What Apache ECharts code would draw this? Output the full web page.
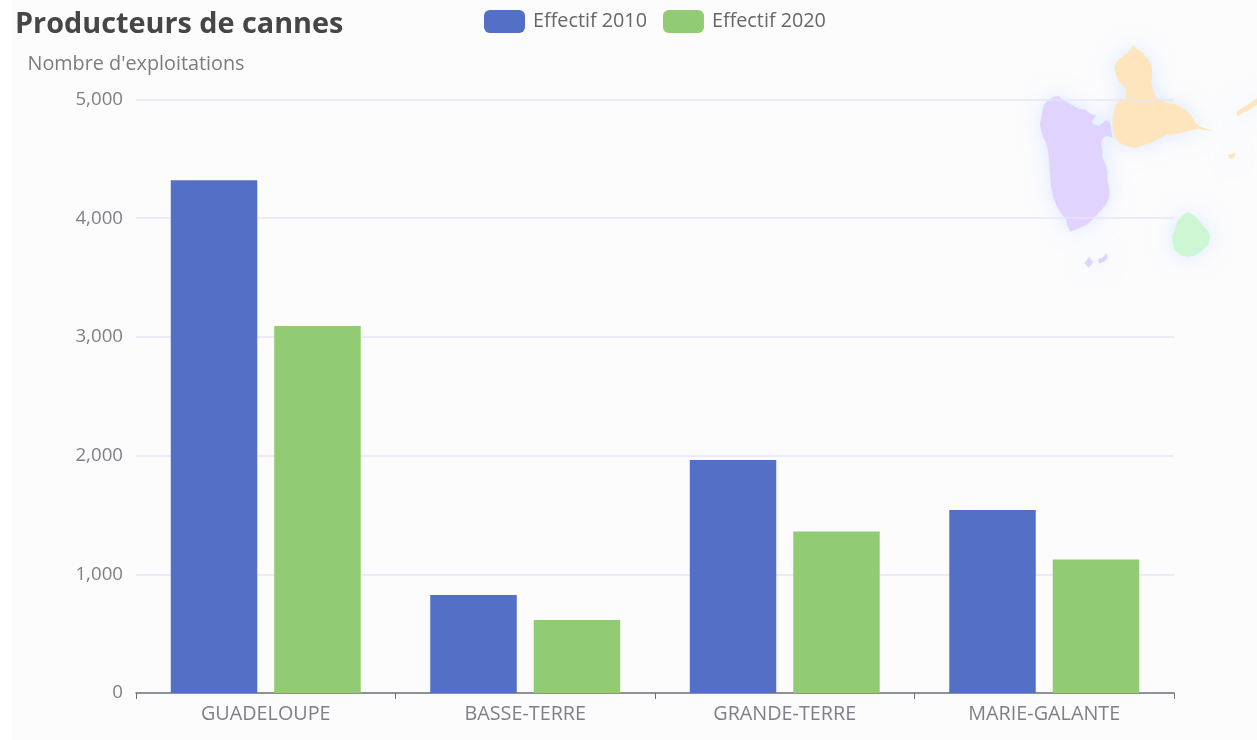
<!DOCTYPE html>
<html><head><meta charset="utf-8">
<script src="https://cdn.jsdelivr.net/npm/echarts@6/dist/echarts.min.js"></script>
<style>html,body{margin:0;padding:0;background:linear-gradient(to right,#fff 12px,#fcfcfd 12px);}#c{width:1257px;height:740px}</style>
</head><body><div id="c"></div>
<script>
const categories=['GUADELOUPE','BASSE-TERRE','GRANDE-TERRE','MARIE-GALANTE'];
const effectif2010=[4320,826,1963,1542];
const effectif2020=[3092,615,1360,1125];
const yTicks={min:0,max:5000,interval:1000};
const FONT='"Open Sans","Noto Sans",sans-serif';

const outlineBasseTerre=[[[100,202],[115,198],[128,208],[150,222],[175,236],[195,240],[212,252],[228,256],[222,268],[215,275],[222,285],[238,288],[250,278],[258,271],[270,280],[272,295],[278,325],[262,318],[250,322],[244,340],[248,365],[246,380],[255,400],[263,425],[262,450],[268,480],[268,505],[258,525],[245,540],[232,555],[218,570],[205,582],[190,590],[170,600],[150,607],[143,590],[138,570],[122,550],[110,530],[98,500],[93,470],[90,440],[88,400],[85,370],[78,340],[65,310],[60,285],[66,250],[72,225],[85,210]],
 [[207,683],[220,697],[207,715],[193,702]],[[233,690],[250,683],[260,671],[264,685],[252,697],[238,702]]];
const outlineGrandeTerre=[[[338,45],[348,55],[365,65],[385,88],[395,110],[397,135],[393,160],[402,185],[412,208],[440,218],[470,224],[495,238],[512,255],[525,278],[540,290],[585,305],[555,300],[530,298],[500,305],[470,312],[440,316],[418,326],[395,338],[365,348],[345,356],[322,350],[300,340],[285,325],[277,295],[278,265],[283,240],[290,218],[305,210],[318,205],[318,185],[316,172],[298,158],[290,140],[283,115],[290,95],[305,80],[322,70],[332,58]],
 [[650,245],[680,226],[711,205],[711,225],[690,238],[665,252],[652,260]],[[623,376],[647,370],[642,384],[630,388]]];
const outlineMarieGalante=[[[500,548],[518,555],[535,570],[550,590],[565,605],[570,625],[565,645],[545,665],[525,678],[505,682],[485,678],[465,665],[458,640],[455,622],[465,600],[472,575],[485,560]]];
const toGeo=(name,polys)=>({type:'Feature',properties:{name},geometry:{type:'MultiPolygon',coordinates:polys.map(p=>{const r=p.map(q=>[q[0]/10,-q[1]/10]);r.push(r[0]);return [r];})}});
echarts.registerMap('gwada',{type:'FeatureCollection',features:[toGeo('Basse-Terre',outlineBasseTerre),toGeo('Grande-Terre',outlineGrandeTerre),toGeo('Marie-Galante',outlineMarieGalante)]});

const chart=echarts.init(document.getElementById('c'),null,{renderer:'canvas'});
const glow={shadowBlur:20,shadowColor:'rgba(190,215,255,0.5)',borderWidth:0};
chart.setOption({
 animation:false,
 backgroundColor:'transparent',
 title:{text:'Producteurs de cannes',left:10,top:5,textStyle:{fontFamily:FONT,fontSize:28.8,fontWeight:'bold',color:'#464646'}},
 legend:{left:479,top:5,itemWidth:41,itemHeight:23,itemGap:16,textStyle:{fontFamily:FONT,fontSize:19.8,color:'#666',padding:[0,0,0,3]},data:['Effectif 2010','Effectif 2020']},
 grid:{left:136,right:83,top:99.5,bottom:47,containLabel:false},
 geo:{map:'gwada',roam:false,silent:true,aspectScale:1,left:1040,top:45,width:217,height:222.7,z:0,
  label:{show:false},
  itemStyle:Object.assign({areaColor:'#e0d4ff'},glow),
  emphasis:{disabled:true},
  regions:[
   {name:'Basse-Terre',itemStyle:Object.assign({areaColor:'#e0d4ff'},glow)},
   {name:'Grande-Terre',itemStyle:Object.assign({areaColor:'#ffe5bd'},glow)},
   {name:'Marie-Galante',itemStyle:Object.assign({areaColor:'#ccf7d2'},glow)}
  ]},
 xAxis:{type:'category',data:categories,
  axisLine:{lineStyle:{color:'#6e7079',width:1.5}},axisTick:{show:true,length:6,lineStyle:{color:'#6e7079'}},
  axisLabel:{fontFamily:FONT,fontSize:19.8,color:'#7f7f86',margin:11}},
 yAxis:{type:'value',min:yTicks.min,max:yTicks.max,interval:yTicks.interval,
  name:"Nombre d'exploitations",nameGap:25,nameTextStyle:{fontFamily:FONT,fontSize:19.8,color:'#7b7b82'},
  axisLabel:{fontFamily:FONT,fontSize:18.7,color:'#7f7f86',margin:13,padding:[0,0,5,0],formatter:v=>v.toLocaleString('en-US')},
  axisLine:{show:false},axisTick:{show:false},
  splitLine:{lineStyle:{color:'#e6e6f6',width:1.5}}},
 series:[
  {name:'Effectif 2010',type:'bar',data:effectif2010,barWidth:86.5,barGap:'19.6%',z:3,itemStyle:{color:'#5470c6'}},
  {name:'Effectif 2020',type:'bar',data:effectif2020,barWidth:86.5,z:3,itemStyle:{color:'#91cc75'}}
 ]
});
</script></body></html>
